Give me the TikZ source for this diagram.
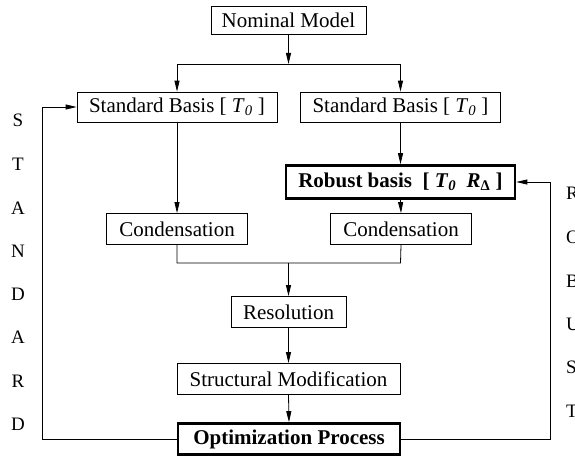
\documentclass[tikz,border=0pt]{standalone}
\usepackage{fontspec}
\setmainfont{Liberation Serif}
\usetikzlibrary{arrows.meta}
\newcommand{\tz}{\textit{T}\textsubscript{\textit{0}}}
\begin{document}
\begin{tikzpicture}[x=1pt,y=-1pt,
  box/.style={draw, line width=0.8pt, minimum height=31pt, inner sep=0pt, font=\fontsize{21}{24}\selectfont},
  bbox/.style={box, line width=2.6pt},
  arr/.style={-{Triangle[length=11pt,width=5pt]}, line width=0.8pt},
  lett/.style={font=\fontsize{19}{22}\selectfont, inner sep=0pt}]
\useasboundingbox (0,0) rectangle (575,460);
\node[box, minimum width=155pt, minimum height=28pt] (nom) at (288.5,20) {Nominal Model};
\node[box, minimum width=200pt, minimum height=30pt] (sbl) at (177,107) {Standard Basis [ \tz\ ]};
\node[box, minimum width=200pt, minimum height=30pt] (sbr) at (400.5,107) {Standard Basis [ \tz\ ]};
\node[bbox, minimum width=229pt, minimum height=33pt] (rob) at (400.5,182) {\textbf{Robust basis\enspace[ \textit{T}\textsubscript{\textit{0}}\enspace \textit{R}\textsubscript{Δ} ]}};
\node[box, minimum width=141pt] (cl) at (177,229) {Condensation};
\node[box, minimum width=141pt] (cr) at (401,229) {Condensation};
\node[box, minimum width=115pt] (res) at (288.5,312) {Resolution};
\node[box, minimum width=223pt] (str) at (288.5,379) {Structural Modification};
\node[bbox, minimum width=222pt] (opt) at (289,439) {\textbf{Optimization Process}};
\coordinate (sL) at (177,64);
\coordinate (sR) at (400.5,64);
\coordinate (mL) at (177,263);
\coordinate (mR) at (400.5,263);
\coordinate (mC) at (288.5,263);
\coordinate (fl) at (42,0);
\coordinate (fr) at (550,0);
\draw[arr] (nom.south) -- (nom.south |- sL);
\draw[line width=0.8pt] (sL) -- (sR);
\draw[arr] (sL) -- (sbl.north);
\draw[arr] (sR) -- (sbr.north);
\draw[arr] (sbl.south) -- (cl.north);
\draw[arr] (sbr.south) -- (rob.north);
\draw[arr] (rob.south) -- (cr.north);
\draw[line width=0.8pt] (cl.south) -- (mL) -- (mR) -- (cr.south);
\draw[arr] (mC) -- (res.north);
\draw[arr] (res.south) -- (str.north);
\draw[arr] (str.south) -- (opt.north);
\draw[arr] (opt.west) -- (opt.west -| fl) |- (sbl.west);
\draw[arr] (opt.east) -- (opt.east -| fr) |- (rob.east);
\foreach \l/\y [count=\i] in {S/120,T/164,A/208,N/251,D/294,A/337,R/381,D/424}
  \node[lett] (ls\i) at (18,\y) {\l};
\foreach \l/\y [count=\i] in {R/193,O/237,B/281,U/324,S/367,T/411}
  \node[lett, anchor=west] (lr\i) at (566,\y) {\l};
\end{tikzpicture}
\end{document}
